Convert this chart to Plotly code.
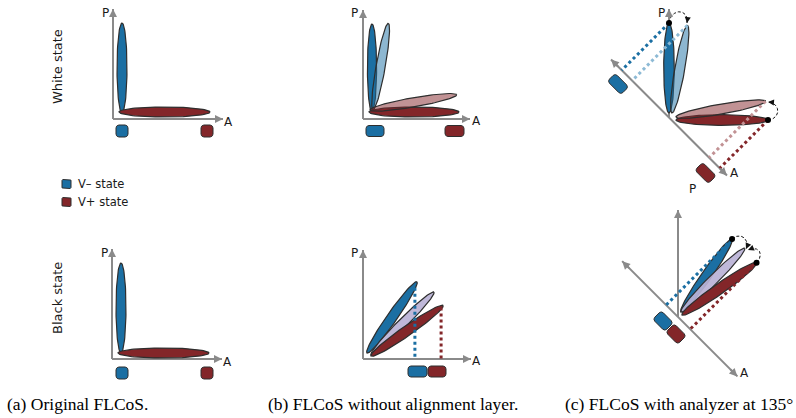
import numpy as np
import plotly.graph_objects as go

# ---------------- data ----------------
panel_captions = ["(a) Original FLCoS.", "(b) FLCoS without alignment layer.",
                  "(c) FLCoS with analyzer at 135°"]
row_labels = ["White state", "Black state"]
legend_labels = ["V– state", "V+ state"]
axis_names = ["P", "A"]
analyzer_deg = 135
# orientation (deg from the A axis) of the LC director in each panel
orig_white = [90, 0]               # V-, V+
orig_black = [90, 0]
noalign_white = [90, 80, 0, 10]    # V- ideal, V- tilted, V+ ideal, V+ tilted
noalign_black = [55, 45, 35]       # V-, intermediate, V+
analyzer_white = [90, 80, 0, 10]
analyzer_black = [55, 45, 35]

# ---------------- styles ----------------
BLUE = "#1b6fa3"
RED = "#832629"
LBLUE = "rgba(27,111,163,0.5)"
LRED = "rgba(131,38,41,0.5)"
LBLUE_S = "#8dbad5"
LRED_S = "#c29294"
LAV = "rgba(186,178,214,0.92)"
EDGE = "#2e2e2e"
GRAY = "#8a8a8a"
SANS = "DejaVu Sans"
SERIF = "Liberation Serif"

fig = go.Figure()


def add_poly(x, y, fill, lw=1.2, lc=EDGE):
    fig.add_trace(go.Scatter(x=x, y=y, mode="lines", fill="toself", fillcolor=fill,
                             line=dict(color=lc, width=lw), hoverinfo="skip", showlegend=False))


def ellipse(tx, ty, ang, L, hw, fill):
    a = np.radians(ang)
    u = np.array([np.cos(a), -np.sin(a)])
    v = np.array([np.sin(a), np.cos(a)])
    c = np.array([tx, ty]) + u * L / 2
    t = np.linspace(0, 2 * np.pi, 100)
    x = c[0] + L / 2 * np.cos(t) * u[0] + hw * np.sin(t) * v[0]
    y = c[1] + L / 2 * np.cos(t) * u[1] + hw * np.sin(t) * v[1]
    add_poly(x, y, fill)
    return (tx + L * u[0], ty + L * u[1])


def rbox(cx, cy, w, h, rot, fill, r=3):
    pts = []
    corners = [(w / 2 - r, h / 2 - r, 0), (-w / 2 + r, h / 2 - r, 90),
               (-w / 2 + r, -h / 2 + r, 180), (w / 2 - r, -h / 2 + r, 270)]
    for (ox, oy, a0) in corners:
        for a in np.radians(np.linspace(a0, a0 + 90, 8)):
            pts.append((ox + r * np.cos(a), oy + r * np.sin(a)))
    pts.append(pts[0])
    p = np.array(pts)
    ra = np.radians(rot)
    x = cx + p[:, 0] * np.cos(ra) - p[:, 1] * np.sin(ra)
    y = cy + p[:, 0] * np.sin(ra) + p[:, 1] * np.cos(ra)
    add_poly(x, y, fill, lw=1)


def line(x0, y0, x1, y1, color=GRAY, width=2, dash=None):
    fig.add_trace(go.Scatter(x=[x0, x1], y=[y0, y1], mode="lines",
                             line=dict(color=color, width=width, dash=dash),
                             hoverinfo="skip", showlegend=False))


def head(x0, y0, x1, y1, color=GRAY, width=2, size=0.8, back=12):
    d = np.array([x1 - x0, y1 - y0], float)
    d /= np.hypot(*d)
    fig.add_annotation(x=x1, y=y1, ax=x1 - d[0] * back, ay=y1 - d[1] * back,
                       xref="x", yref="y", axref="x", ayref="y", text="",
                       showarrow=True, arrowhead=2, arrowsize=size,
                       arrowwidth=width, arrowcolor=color, standoff=0)


def arrow(x0, y0, x1, y1):
    line(x0, y0, x1, y1)
    head(x0, y0, x1, y1)


def text(x, y, s, size=12, anchor="center", font=SANS, angle=0, color="#1a1a1a"):
    fig.add_annotation(x=x, y=y, xref="x", yref="y", text=s, showarrow=False,
                       xanchor=anchor, yanchor="middle", textangle=angle,
                       font=dict(family=font, size=size, color=color))


def dotted(p, q, color):
    line(p[0], p[1], q[0], q[1], color=color, width=3, dash="dot")


def foot(p, o, deg):
    a = np.radians(deg)
    d = np.array([np.cos(a), -np.sin(a)])
    v = np.array(p) - np.array(o)
    return tuple(np.array(o) + d * v.dot(d))


def arc(p0, c1, c2, p3):
    t = np.linspace(0, 1, 40)[:, None]
    P = [np.array(q, float) for q in (p0, c1, c2, p3)]
    b = (1 - t) ** 3 * P[0] + 3 * (1 - t) ** 2 * t * P[1] + 3 * (1 - t) * t ** 2 * P[2] + t ** 3 * P[3]
    fig.add_trace(go.Scatter(x=b[:, 0], y=b[:, 1], mode="lines",
                             line=dict(color="#111", width=1, dash="3px,2px"),
                             hoverinfo="skip", showlegend=False))
    head(c2[0], c2[1], p3[0], p3[1], color="#111", width=1, size=1.2, back=6)


def dots(pts):
    fig.add_trace(go.Scatter(x=[p[0] for p in pts], y=[p[1] for p in pts], mode="markers",
                             marker=dict(color="#000", size=6), hoverinfo="skip",
                             showlegend=False))


# ---------------- panel (a) ----------------
for (oy, ang, ey, by) in [(119, orig_white, 113, 131), (359, orig_black, 353, 373)]:
    ox = 113 if oy == 119 else 112
    arrow(ox, oy, ox, oy - 110)
    arrow(ox, oy, ox + 110, oy)
    text(ox - 8, oy - 106, axis_names[0])
    text(ox + 115, oy + 2.5, axis_names[1])
    ellipse(ox + 9, ey, ang[0], 90, 5, BLUE)
    ellipse(ox + 6, ey - (1 if oy == 119 else 0), ang[1], 91, 5, RED)
    rbox(122, by, 12, 12, 0, BLUE)
    rbox(207, by, 12, 12, 0, RED)

text(57, 67, row_labels[0], size=13, angle=-90)
text(57, 298, row_labels[1], size=13, angle=-90)
rbox(66.5, 184, 9, 9, 0, BLUE, r=1)
rbox(66.5, 202, 9, 9, 0, RED, r=1)
text(76, 184, legend_labels[0], size=11.5, anchor="left")
text(76, 202, legend_labels[1], size=11.5, anchor="left")

# ---------------- panel (b) ----------------
arrow(363, 119, 363, 10)
arrow(363, 119, 470, 119)
text(354, 13, axis_names[0])
text(476, 121, axis_names[1])
ellipse(372, 112, noalign_white[0], 88, 4.6, BLUE)
ellipse(373, 110, noalign_white[1], 88, 4.6, LBLUE)
ellipse(369, 112, noalign_white[2], 90, 5, RED)
ellipse(370, 110, noalign_white[3], 88, 4.6, LRED)
rbox(375, 131, 18, 11, 0, BLUE)
rbox(454.5, 131, 19, 11, 0, RED)

arrow(363, 359, 363, 250)
arrow(363, 359, 471, 359)
text(354, 253, axis_names[0])
text(476, 361, axis_names[1])
tb = ellipse(367, 353, noalign_black[0], 87, 5, BLUE)
ellipse(371, 355, noalign_black[1], 89, 4.6, LAV)
tr = ellipse(371, 356, noalign_black[2], 88, 5, RED)
dotted((tb[0] - 2, tb[1] + 6), (tb[0] - 2, 359), BLUE)
dotted((tr[0] - 2, tr[1] + 2), (tr[0] - 2, 359), RED)
rbox(417.5, 371.5, 19, 11, 0, BLUE)
rbox(437, 371.5, 18, 11, 0, RED)

# ---------------- panel (c) ----------------
a = np.radians(analyzer_deg)
dirv = np.array([np.cos(a), -np.sin(a)])

O1 = (669, 117.5)
line(669, 117, 669, 9)
p_ul = np.array(O1) + dirv * 82
p_lr = np.array(O1) - dirv * 82
line(p_ul[0], p_ul[1], p_lr[0], p_lr[1])
t1 = ellipse(669, 113, analyzer_white[0], 90, 5.3, BLUE)
t2 = ellipse(672, 113, analyzer_white[1], 89, 5, LBLUE)
t3 = ellipse(676, 120, analyzer_white[2], 92, 5.3, RED)
t4 = ellipse(676, 117, analyzer_white[3], 91, 5, LRED)
head(669, 30, 669, 9)
head(O1[0], O1[1], p_ul[0], p_ul[1])
head(O1[0], O1[1], p_lr[0], p_lr[1])
for tp, col in [(t1, BLUE), (t2, LBLUE_S), (t3, RED), (t4, LRED_S)]:
    dotted(tp, foot(tp, O1, analyzer_deg), col)
arc(t1, (671, 8), (689, 8), (687, 23))
arc(t3, (781, 119), (781, 103), (768, 102))
dots([t1, t3])
rbox(618, 84, 19, 11, 45, BLUE)
rbox(705.5, 173, 19, 11, 45, RED)
text(661, 13, axis_names[0])
text(734, 173, axis_names[1])
text(692, 189, axis_names[0])

O2 = (678, 317)
line(678, 317, 678, 210)
q_ul = np.array(O2) + dirv * 79
q_lr = np.array(O2) - dirv * 84
line(q_ul[0], q_ul[1], q_lr[0], q_lr[1])
s1 = ellipse(681, 312, analyzer_black[0], 89, 5, BLUE)
s2 = ellipse(681, 312, analyzer_black[1], 90, 4.8, LAV)
s3 = ellipse(682, 315, analyzer_black[2], 91, 5.3, RED)
head(678, 230, 678, 210)
head(O2[0], O2[1], q_ul[0], q_ul[1])
head(O2[0], O2[1], q_lr[0], q_lr[1])
dotted(s1, foot(s1, O2, analyzer_deg), BLUE)
dotted(s3, foot(s3, O2, analyzer_deg), RED)
arc(s1, (741, 231), (750, 240), (746, 249))
arc(s3, (764, 255), (760, 245), (748, 250))
dots([s1, s3])
rbox(663, 321, 17, 12, 45, BLUE)
rbox(676, 334, 17, 12, 45, RED)
text(744, 373, axis_names[1])

# ---------------- captions ----------------
fig.add_annotation(x=5, y=404, xref="x", yref="y", text=panel_captions[0], showarrow=False,
                   xanchor="left", font=dict(family=SERIF, size=17.5, color="#000"))
fig.add_annotation(x=520, y=404, xref="x", yref="y", text=panel_captions[1], showarrow=False,
                   xanchor="right", font=dict(family=SERIF, size=17.5, color="#000"))
fig.add_annotation(x=795, y=404, xref="x", yref="y", text=panel_captions[2], showarrow=False,
                   xanchor="right", font=dict(family=SERIF, size=17.5, color="#000"))

fig.update_layout(width=796, height=418, margin=dict(l=0, r=0, t=0, b=0),
                  paper_bgcolor="white", plot_bgcolor="white", showlegend=False,
                  xaxis=dict(range=[0, 796], visible=False, fixedrange=True),
                  yaxis=dict(range=[418, 0], visible=False, fixedrange=True))
fig.write_html("out.html", config={"displayModeBar": False},
               post_script="document.body.style.margin='0';document.body.style.overflow='hidden';")
